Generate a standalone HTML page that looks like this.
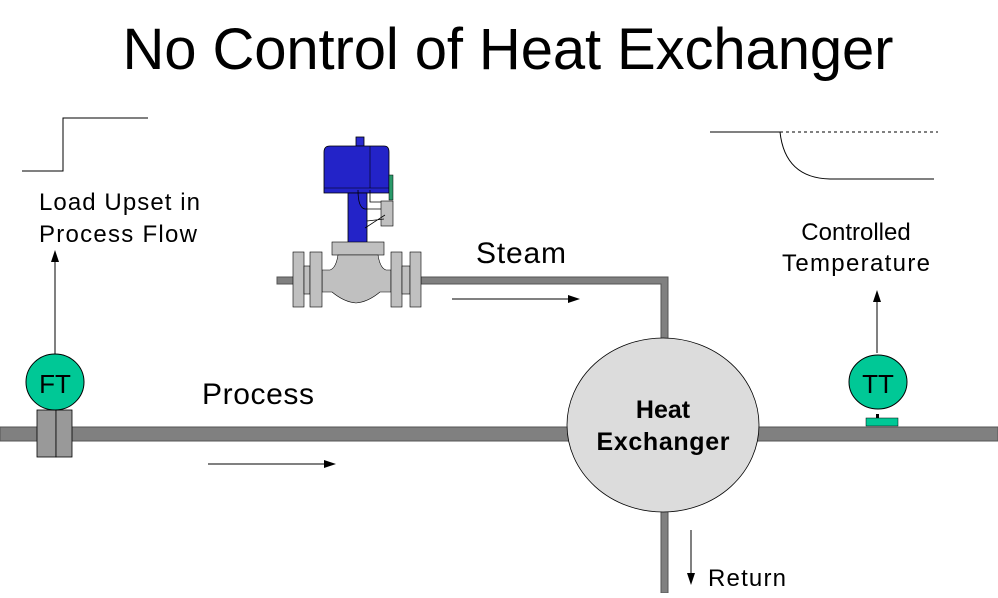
<!DOCTYPE html>
<html><head><meta charset="utf-8"><style>
body{margin:0;background:#fff}
svg text{font-family:"Liberation Sans",Arial,sans-serif}
</style></head><body>
<svg width="998" height="593" viewBox="0 0 998 593" xmlns="http://www.w3.org/2000/svg">
<rect width="998" height="593" fill="#fff"/>
<text x="508" y="69" font-size="58" text-anchor="middle" fill="#000" textLength="771">No Control of Heat Exchanger</text>
<!-- step upset -->
<polyline points="22,171 63,171 63,118 148,118" fill="none" stroke="#000" stroke-width="1"/>
<text x="39" y="210" font-size="24" textLength="161">Load Upset in</text>
<text x="39" y="242" font-size="24" textLength="158">Process Flow</text>
<!-- temperature response -->
<line x1="710" y1="132" x2="780" y2="132" stroke="#000" stroke-width="1"/>
<line x1="780" y1="132" x2="938" y2="132" stroke="#000" stroke-width="1" stroke-dasharray="3,3"/>
<path d="M780,132 Q785,178 830,179 L934,179" fill="none" stroke="#000" stroke-width="1"/>
<text x="856" y="240" font-size="24" text-anchor="middle">Controlled</text>
<text x="856" y="271" font-size="24" text-anchor="middle" textLength="148">Temperature</text>
<!-- pipes -->
<rect x="0" y="427" width="998" height="14" fill="#808080" stroke="#555" stroke-width="1"/>
<path d="M421,277 L668,277 L668,340 L661,340 L661,284 L421,284 Z" fill="#808080" stroke="#555" stroke-width="1"/>
<rect x="661" y="510" width="7" height="83" fill="#808080" stroke="#555" stroke-width="1"/>
<rect x="277" y="277" width="20" height="7" fill="#808080" stroke="#555" stroke-width="1"/>
<!-- valve -->
<rect x="356" y="137" width="8" height="9" fill="#2a2ad0" stroke="#000" stroke-width="0.8"/>
<path d="M330,146 L384,146 Q389,146 389,152 L389,193 L324,193 L324,152 Q324,146 330,146 Z" fill="#2323c8" stroke="#000" stroke-width="0.8"/>
<line x1="324" y1="188" x2="389" y2="188" stroke="#000" stroke-width="0.6"/>
<line x1="370" y1="146" x2="370" y2="188" stroke="#000" stroke-width="0.6"/>
<rect x="389" y="175" width="4" height="25" fill="#2a9a6a" stroke="#000" stroke-width="0.5"/>
<rect x="348" y="193" width="19" height="50" fill="#2323c8" stroke="#000" stroke-width="0.8"/>
<rect x="381" y="201" width="12" height="25" fill="#c0c0c0" stroke="#000" stroke-width="0.6"/>
<path d="M358,190 Q358,208 365,209 L381,209 M370,190 L370,202 L381,202 M367,221 L384,219 M365,228 L385,215" fill="none" stroke="#000" stroke-width="0.8"/>
<rect x="332" y="242" width="52" height="13" fill="#c0c0c0" stroke="#000" stroke-width="0.6"/>
<path d="M322,270 L330,270 Q336,268 338,255 L378,255 Q380,268 386,270 L391,270 L391,292 L380,292 Q368,302 356,303 Q344,302 332,292 L322,292 Z" fill="#c0c0c0" stroke="#000" stroke-width="0.6"/>
<rect x="293" y="252" width="11" height="55" fill="#c0c0c0" stroke="#000" stroke-width="0.6"/>
<rect x="304" y="266" width="6" height="28" fill="#c0c0c0" stroke="#000" stroke-width="0.6"/>
<rect x="310" y="252" width="12" height="55" fill="#c0c0c0" stroke="#000" stroke-width="0.6"/>
<rect x="391" y="252" width="11" height="55" fill="#c0c0c0" stroke="#000" stroke-width="0.6"/>
<rect x="402" y="266" width="8" height="28" fill="#c0c0c0" stroke="#000" stroke-width="0.6"/>
<rect x="410" y="252" width="11" height="55" fill="#c0c0c0" stroke="#000" stroke-width="0.6"/>
<text x="476" y="263" font-size="30" textLength="90">Steam</text>
<line x1="452" y1="299" x2="572" y2="299" stroke="#000" stroke-width="1"/>
<polygon points="580,299 568,295 568,303" fill="#000"/>
<text x="202" y="404" font-size="30" textLength="112">Process</text>
<line x1="208" y1="464" x2="328" y2="464" stroke="#000" stroke-width="1"/>
<polygon points="336,464 324,460 324,468" fill="#000"/>
<!-- FT -->
<line x1="55" y1="354" x2="55" y2="258" stroke="#000" stroke-width="1"/>
<polygon points="55,250 51,262 59,262" fill="#000"/>
<rect x="37" y="410" width="19" height="47" fill="#999" stroke="#000" stroke-width="0.8"/>
<rect x="56" y="410" width="16" height="47" fill="#999" stroke="#000" stroke-width="0.8"/>
<ellipse cx="55" cy="382" rx="29" ry="28" fill="#00c896" stroke="#000" stroke-width="1"/>
<text x="55" y="393" font-size="26" text-anchor="middle">FT</text>
<!-- Heat exchanger -->
<ellipse cx="663" cy="425" rx="96" ry="87" fill="#dcdcdc" stroke="#000" stroke-width="0.8"/>
<text x="663" y="418" font-size="25" font-weight="bold" text-anchor="middle">Heat</text>
<text x="663" y="450" font-size="25" font-weight="bold" text-anchor="middle" textLength="133">Exchanger</text>
<!-- TT -->
<line x1="877" y1="353" x2="877" y2="298" stroke="#000" stroke-width="1"/>
<polygon points="877,290 873,302 881,302" fill="#000"/>
<rect x="866" y="418" width="32" height="8" fill="#00c896" stroke="#000" stroke-width="0.5"/>
<rect x="876" y="414" width="3" height="4" fill="#000"/>
<ellipse cx="878" cy="382" rx="29" ry="27" fill="#00c896" stroke="#000" stroke-width="1"/>
<text x="878" y="393" font-size="26" text-anchor="middle">TT</text>
<!-- Return -->
<line x1="691" y1="530" x2="691" y2="576" stroke="#000" stroke-width="1"/>
<polygon points="691,585 687,573 695,573" fill="#000"/>
<text x="708" y="586" font-size="24" textLength="78">Return</text>
</svg>
</body></html>
